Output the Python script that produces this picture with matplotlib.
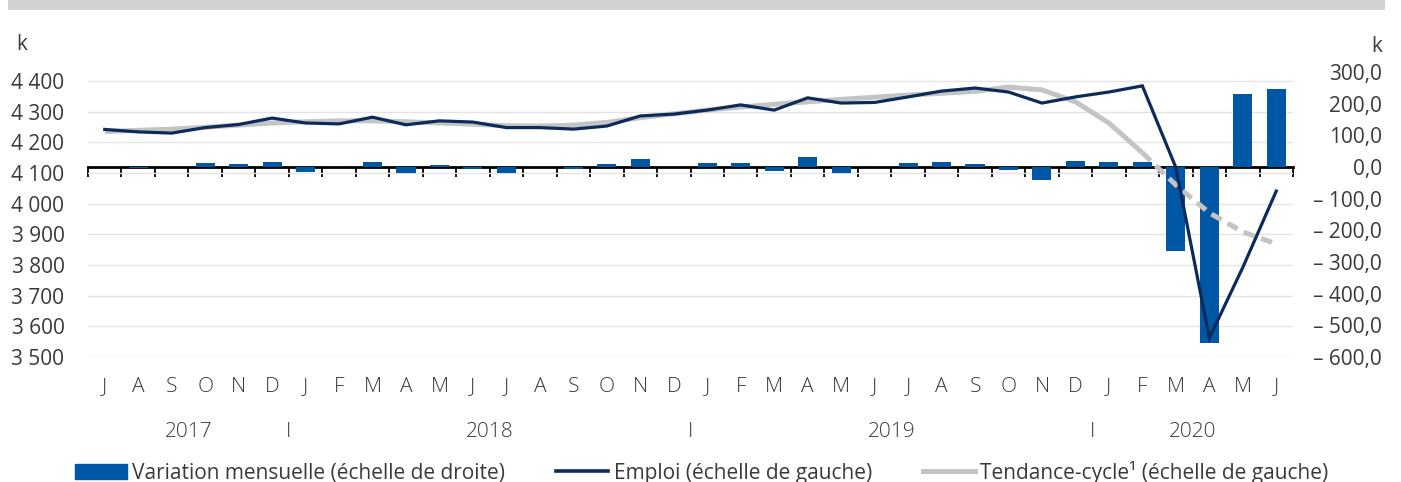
import numpy as np
import matplotlib
matplotlib.use('Agg')
import matplotlib.pyplot as plt
from matplotlib.patches import Rectangle, Patch
from matplotlib.lines import Line2D
from matplotlib.transforms import blended_transform_factory

# --- data (k) ---
months = list("JASONDJFMAMJJASONDJFMAMJJASONDJFMAMJ")
years = ['2017', '2018', '2019', '2020']
year_counts = [6, 12, 12, 6]

emploi = [4242, 4234, 4230, 4248, 4258, 4279,
          4263, 4260, 4282, 4257, 4270, 4266,
          4248, 4248, 4243, 4253, 4286, 4292,
          4305, 4322, 4305, 4345, 4328, 4330,
          4348, 4367, 4377, 4364, 4328, 4348,
          4364, 4384, 4118, 3562, 3792, 4041]

tendance = [4235, 4239, 4243, 4249, 4256, 4263,
            4267, 4270, 4270, 4267, 4263, 4259,
            4254, 4253, 4256, 4265, 4280, 4293,
            4305, 4315, 4324, 4332, 4340, 4347,
            4354, 4360, 4366, 4380, 4371, 4332,
            4263, 4166, 4061, 3970, 3908, 3869]

variation = [0, -4, -1, 13, 9, 16,
             -16, -1, 17, -19, 7, -6,
             -18, 0, -5, 9, 25, 1,
             14, 12, -12, 32, -18, 1,
             13, 15, 8, -10, -40, 19,
             16, 17, -265, -556, 230, 247]

left_ticks = list(range(3500, 4401, 100))
right_ticks = list(range(-600, 301, 100))

# --- style ---
BLUE = '#0057a5'
NAVY = '#0d2b5a'
GREY = '#c4c4c4'
TXT = '#3a3a3a'
plt.rcParams['font.family'] = ['Open Sans', 'DejaVu Sans']

W, H = 1401, 482
fig = plt.figure(figsize=(W / 100, H / 100), dpi=100)

# top grey band
fig.patches.append(Rectangle((8 / W, 1 - 10 / H), (1385 - 8) / W, 10 / H,
                             transform=fig.transFigure, color='#d1d2d4', lw=0))

left, right, top, bottom = 88, 1293, 72, 357
ax = fig.add_axes([left / W, 1 - bottom / H, (right - left) / W, (bottom - top) / H])
x = np.arange(len(months))

# left axis: grid + labels + zero line with ticks
ax.set_xlim(-0.5, len(months) - 0.5)
ax.set_ylim(3500, 3500 + (bottom - top) / 30.67 * 100)
ax.set_yticks(left_ticks)
ax.set_yticklabels([f"{v:,}".replace(',', ' ') for v in left_ticks])
ax.yaxis.grid(True, color='#e4e4e4', lw=1)
ax.set_axisbelow(True)
ax.tick_params(axis='y', length=0, pad=17, labelsize=15, labelcolor=TXT)
for s in ['top', 'right', 'left']:
    ax.spines[s].set_visible(False)
ax.spines['bottom'].set_position(('axes', (bottom - 167) / (bottom - top)))
ax.spines['bottom'].set_linewidth(2)
ax.set_xticks(np.arange(-0.5, len(months), 1))
ax.tick_params(axis='x', length=7, width=1.3, color='black', labelbottom=False)

# right axis: monthly variation bars
ax2 = ax.twinx()
ax2.bar(x, variation, width=0.57, color=BLUE, zorder=2)
ax2.set_ylim(-600, 300)
ax2.set_yticks(right_ticks)
ax2.set_yticklabels([(f"{v:.1f}" if v >= 0 else f"\u2013 {-v:.1f}").replace('.', ',')
                     for v in right_ticks])
ax2.tick_params(axis='y', length=0, pad=64, labelsize=15, labelcolor=TXT)
for lbl in ax2.get_yticklabels():
    lbl.set_horizontalalignment('right')
for s in ax2.spines.values():
    s.set_visible(False)

# lines on top, left scale
ax3 = ax.twinx()
ax3.set_ylim(ax.get_ylim())
ax3.axis('off')
split = 31  # Feb 2020: trend becomes dashed
ax3.plot(x[:split + 1], tendance[:split + 1], color=GREY, lw=3.6, solid_capstyle='butt')
ax3.plot(x[split:], tendance[split:], color=GREY, lw=3.6, dashes=(2.3, 1.4))
ax3.plot(x, emploi, color=NAVY, lw=2.3, solid_joinstyle='miter')

# month and year labels
tr = blended_transform_factory(ax.transData, fig.transFigure)
for i, m in enumerate(months):
    ax.text(i, 1 - 387 / H, m, transform=tr, ha='center', va='center',
            fontsize=15, color=TXT, fontweight='light')
start = 0
for k, (yr, n) in enumerate(zip(years, year_counts)):
    ax.text(start + n / 2 - 0.5, 1 - 432 / H, yr, transform=tr, ha='center',
            va='center', fontsize=15, color=TXT, fontweight='light')
    if k > 0:
        ax.text(start - 0.5, 1 - 432 / H, 'I', transform=tr, ha='center',
                va='center', fontsize=15, color=TXT, fontweight='light')
    start += n

# unit labels
fig.text(22 / W, 1 - 45 / H, 'k', ha='center', va='center', fontsize=15, color=TXT)
fig.text(1377 / W, 1 - 47 / H, 'k', ha='center', va='center', fontsize=15, color=TXT)

# legend
handles = [Patch(color=BLUE),
           Line2D([], [], color=NAVY, lw=2.6),
           Line2D([], [], color=GREY, lw=3.6)]
labels = ['Variation mensuelle (échelle de droite)',
          'Emploi (échelle de gauche)',
          'Tendance-cycle\u00b9 (échelle de gauche)']
fig.legend(handles, labels, loc='center left', bbox_to_anchor=(75 / W, 1 - 472 / H),
           ncol=3, frameon=False, fontsize=15, handlelength=2.5, handleheight=0.7,
           handletextpad=0.25, columnspacing=2.45, borderpad=0, borderaxespad=0,
           labelcolor=TXT)

fig.savefig('out.png', dpi=100)
